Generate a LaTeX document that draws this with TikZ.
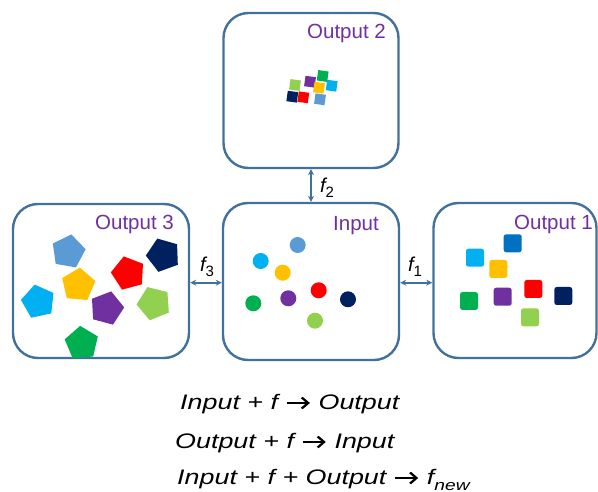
\documentclass[tikz,border=0pt]{standalone}
\usepackage{fontspec}
\setmainfont{Liberation Sans}
\usetikzlibrary{shapes.geometric,arrows.meta}
\definecolor{boxc}{HTML}{41719C}
\definecolor{lblue}{HTML}{5B9BD5}
\definecolor{cyanc}{HTML}{00B0F0}
\definecolor{yellowc}{HTML}{FFC000}
\definecolor{greenc}{HTML}{00B050}
\definecolor{purplec}{HTML}{7030A0}
\definecolor{redc}{HTML}{FF0000}
\definecolor{navyc}{HTML}{002060}
\definecolor{lgreen}{HTML}{92D050}
\definecolor{dblue}{HTML}{0070C0}
\tikzset{
  panel/.style={draw=boxc, line width=2.4pt, rounded corners=25pt, inner sep=0pt, fill=white},
  conn/.style={draw=boxc, line width=1.8pt, {Stealth[length=6pt,width=6pt]}-{Stealth[length=6pt,width=6pt]}},
  ttl/.style={anchor=base east, inner sep=0pt, text=purplec, font=\fontsize{20.5}{20.5}\selectfont},
  flab/.style={inner sep=0pt, font=\fontsize{20}{20}\selectfont},
  dot/.style={circle, inner sep=0pt, minimum size=16pt},
  sq/.style={rectangle, rounded corners=2.5pt, inner sep=0pt, minimum size=18pt},
  tsq/.style={rectangle, inner sep=0pt, minimum size=10.5pt, rotate=-8},
  pent/.style={regular polygon, regular polygon sides=5, inner sep=0pt, minimum size=35pt},
  eqn/.style={anchor=base west, inner sep=0pt, font=\fontsize{21}{21}\selectfont\itshape},
}
\newcommand{\rarr}{\tikz[baseline=-6pt, x=1pt, y=1pt]\draw[line width=2pt, line cap=butt, -{Straight Barb[length=5pt,width=11pt,line width=2pt]}] (0,0) -- (18,0);}
\begin{document}
\begin{tikzpicture}[x=1pt,y=-1pt]
\useasboundingbox (0,0) rectangle (598,492);
% panels
\node[panel, minimum width=176pt, minimum height=154pt] (out3) at (101,281) {};
\node[panel, minimum width=176pt, minimum height=157pt] (inp) at (311,281.5) {};
\node[panel, minimum width=175pt, minimum height=155pt] (out2) at (311,90.5) {};
\node[panel, minimum width=163pt, minimum height=155pt] (out1) at (515,280.5) {};
% titles
\node[ttl] (t2) at (386,39) {Output 2};
\node[ttl] (t3) at (174,230) {Output 3};
\node[ttl] (ti) at (379,231) {Input};
\node[ttl] (t1) at (593,230) {Output 1};
% connectors
\coordinate (a3) at (0,282.7);
\draw[conn] (out3.east |- a3) -- (inp.west |- a3);
\draw[conn] (inp.east |- a3) -- (out1.west |- a3);
\draw[conn] (out2.south) -- (inp.north);
\node[flab] (f3) at (207,266.5) {\itshape f\upshape\raisebox{-5pt}{\fontsize{15}{15}\selectfont 3}};
\node[flab] (f1) at (415,266.5) {\itshape f\upshape\raisebox{-5pt}{\fontsize{15}{15}\selectfont 1}};
\node[flab] (f2) at (327,188) {\itshape f\upshape\raisebox{-5pt}{\fontsize{15}{15}\selectfont 2}};
% input dots
\node[dot, fill=lblue] (d1) at (297.7,245) {};
\node[dot, fill=cyanc] (d2) at (260.7,261) {};
\node[dot, fill=yellowc] (d3) at (282.7,272.7) {};
\node[dot, fill=greenc] (d4) at (253.3,303.3) {};
\node[dot, fill=purplec] (d5) at (288.3,298.3) {};
\node[dot, fill=redc] (d6) at (318.7,290.3) {};
\node[dot, fill=navyc] (d7) at (348,299.3) {};
\node[dot, fill=lgreen] (d8) at (315,320.7) {};
% output 1 squares
\node[sq, fill=dblue] (s1) at (512.7,243.3) {};
\node[sq, fill=cyanc] (s2) at (475,257.7) {};
\node[sq, fill=yellowc] (s3) at (498.3,269) {};
\node[sq, fill=greenc] (s4) at (469,301) {};
\node[sq, fill=purplec] (s5) at (502.7,296.7) {};
\node[sq, fill=redc] (s6) at (533.3,289) {};
\node[sq, fill=navyc] (s7) at (563.3,296) {};
\node[sq, fill=lgreen] (s8) at (530,317.3) {};
% output 2 tiny squares
\node[tsq, fill=lgreen] (q1) at (295,85) {};
\node[tsq, fill=purplec] (q2) at (310,81.7) {};
\node[tsq, fill=greenc] (q3) at (322.7,76) {};
\node[tsq, fill=yellowc] (q6) at (319,87.7) {};
\node[tsq, fill=cyanc] (q7) at (331.7,85.7) {};
\node[tsq, fill=navyc] (q4) at (292.3,96.7) {};
\node[tsq, fill=redc] (q5) at (303.3,97.3) {};
\node[tsq, fill=lblue] (q8) at (320,99.3) {};
% output 3 pentagons
\node[pent, fill=lblue, rotate=-10] (p1) at (68.3,251.7) {};
\node[pent, fill=navyc, rotate=20] (p2) at (163.3,255) {};
\node[pent, fill=redc, rotate=15] (p3) at (128.3,273.3) {};
\node[pent, fill=yellowc, rotate=-5] (p4) at (78.3,285) {};
\node[pent, fill=cyanc, rotate=12] (p5) at (38.3,301.7) {};
\node[pent, fill=purplec, rotate=-15] (p6) at (106.7,308.3) {};
\node[pent, fill=lgreen, rotate=22] (p7) at (154,303.3) {};
\node[pent, fill=greenc, rotate=5] (p8) at (81.7,343.3) {};
% equations
\node[eqn] (e1) at (180,409) {\scalebox{1.28}[1]{Input + f \rarr{} Output}};
\node[eqn] (e2) at (175,448) {\scalebox{1.28}[1]{Output + f \rarr{} Input}};
\node[eqn] (e3) at (177,484) {\scalebox{1.28}[1]{Input + f + Output \rarr{} f\raisebox{-6pt}{\fontsize{15}{15}\selectfont new}}};
\end{tikzpicture}
\end{document}
